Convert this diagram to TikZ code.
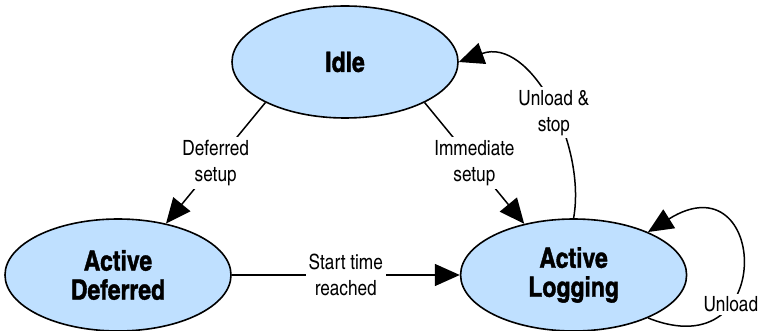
\documentclass[tikz,border=0pt]{standalone}
\usepackage{fontspec}
\setmainfont{texgyreheroscn}[Extension=.otf, UprightFont=*-regular, BoldFont=*-bold, BoldFeatures={FakeBold=1.3}]
\usetikzlibrary{positioning}
\usetikzlibrary{shapes.geometric}
\usetikzlibrary{arrows.meta}
\definecolor{statefill}{RGB}{191,224,255}
\tikzset{
	>={Triangle[length=12.5pt,width=11pt]},
	statenode/.style={
		ellipse, 
		fill=statefill,
		draw=black, line width=0.8pt,
		minimum width=113pt, 
		minimum height=56pt, 
		inner sep=0pt,
		align=center,
		font=\fontsize{14}{14.5}\selectfont\bfseries},
	line/.style={draw, line width=0.75pt, ->},
	edgelabel/.style={
		fill=white,
		align=center,
		inner sep=1.5pt,
		font=\fontsize{10.5}{13}\selectfont},
}

\begin{document}
\begin{tikzpicture}
	 		[x=0.5pt,y=-0.5pt]
	 		\useasboundingbox (0,0) rectangle (760,331);
	 		\node[statenode] (idle) at (345,62) {Idle};
	 		\node[statenode] (deferred) at (118,275) {Active\\Deferred};
	 		\node[statenode, right=114pt of deferred] (logging) {Active\\Logging};
	 		
	 		\path[line] (idle.207) -- node[edgelabel] {Deferred\\setup} (deferred.47);
	 		\path[line] (idle.-27) -- node[edgelabel] {Immediate\\setup} (logging.134);
	 		\path[line] (deferred.east) -- node[edgelabel] {Start time\\reached} (logging.west);
	 		\path[line] (logging.north) to[out=80,in=20] node[edgelabel, pos=0.45] {Unload \&\\stop} (idle.east);
	 		% loop back into logging
	 		\path[line] (logging.-30) .. controls +(130,52) and +(120,-75) .. (logging.30) node[edgelabel, pos=0.32] {Unload};
	 		
	 		\end{tikzpicture}
\end{document}
